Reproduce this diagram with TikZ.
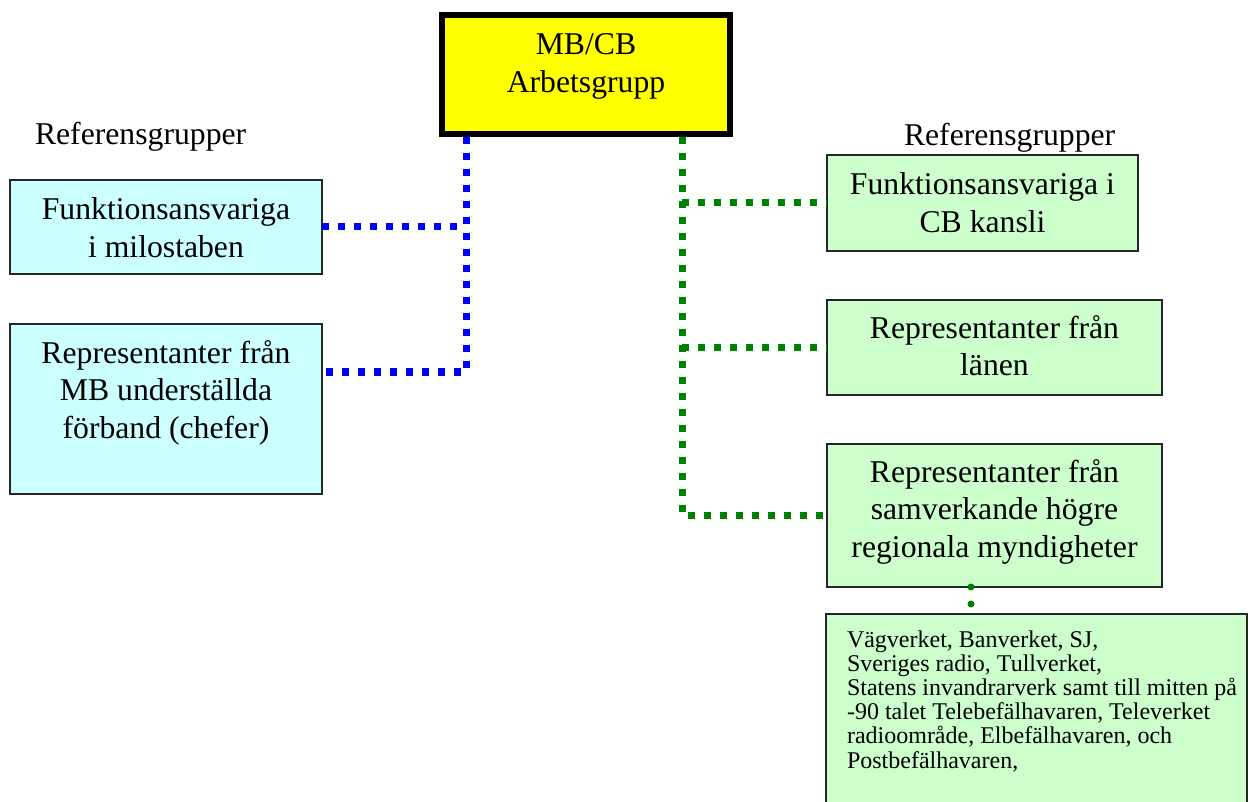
\documentclass[tikz,border=0pt]{standalone}
\usepackage{fontspec}
\setmainfont{Liberation Serif}
\definecolor{boxcyan}{HTML}{CCFFFF}
\definecolor{boxgreen}{HTML}{CCFFCC}
\definecolor{linkblue}{HTML}{0000FF}
\definecolor{linkgreen}{HTML}{008000}
\definecolor{headyellow}{HTML}{FFFF00}
% multi-line text blocks whose baseline is that of the first line
\newcommand\cblock[1]{\parbox[t]{420pt}{\centering #1}}
\newcommand\lblock[1]{\parbox[t]{415pt}{\raggedright #1}}
\tikzset{
  bigtext/.style={font=\fontsize{31.7}{37.5}\selectfont},
  smalltext/.style={font=\fontsize{24}{24.2}\selectfont},
  txt/.style={inner sep=0pt, outer sep=0pt, anchor=base},
  framebox/.style={rectangle, draw=black!85, line width=2pt, inner sep=0pt, outer sep=0pt},
  cyanbox/.style={framebox, fill=boxcyan},
  greenbox/.style={framebox, fill=boxgreen},
  headbox/.style={rectangle, draw=black, line width=6pt, fill=headyellow, inner sep=0pt, outer sep=0pt},
  bluedots/.style={draw=linkblue, line width=7pt, dash pattern=on 7pt off 9pt},
  greendots/.style={draw=linkgreen, line width=7pt, dash pattern=on 7pt off 9pt},
  rounddots/.style={draw=linkgreen, line width=7pt, line cap=round, dash pattern=on 0pt off 17pt},
}
\begin{document}
\begin{tikzpicture}[x=1pt, y=-1pt]
  \useasboundingbox (0,0) rectangle (1248,802);
  \fill[white] (0,0) rectangle (1248,802);
  \clip (0,0) rectangle (1248,802);

  % working group at the top
  \node[headbox, minimum width=288pt, minimum height=119pt] (wg) at (586,74.5) {};
  \node[txt, bigtext] (wgt) at (586,55) {\cblock{MB/CB\\Arbetsgrupp}};

  % headings
  \node[txt, bigtext, anchor=base west] (lref) at (35,145) {Referensgrupper};
  \node[txt, bigtext, anchor=base west] (rref) at (904,146) {Referensgrupper};

  % left reference groups
  \node[cyanbox, minimum width=312pt, minimum height=94pt] (l1) at (166,227) {};
  \node[txt, bigtext] (l1t) at (166,220) {\cblock{Funktionsansvariga\\i milostaben}};
  \node[cyanbox, minimum width=312pt, minimum height=170pt] (l2) at (166,409) {};
  \node[txt, bigtext] (l2t) at (166,363) {\cblock{Representanter från\\MB underställda\\förband (chefer)}};

  % right reference groups
  \node[greenbox, minimum width=311pt, minimum height=96pt] (r1) at (982.5,203) {};
  \node[txt, bigtext] (r1t) at (982.5,195) {\cblock{Funktionsansvariga i\\CB kansli}};
  \node[greenbox, minimum width=335pt, minimum height=95pt] (r2) at (994.5,347.5) {};
  \node[txt, bigtext] (r2t) at (994.5,338) {\cblock{Representanter från\\länen}};
  \node[greenbox, minimum width=335pt, minimum height=143pt] (r3) at (994.5,515.5) {};
  \node[txt, bigtext] (r3t) at (994.5,482) {\cblock{Representanter från\\samverkande högre\\regionala myndigheter}};
  \node[greenbox, minimum width=421pt, minimum height=286pt] (r4) at (1036.5,757) {};
  \node[txt, smalltext, anchor=base west] (r4t) at (847,647) {\lblock{Vägverket, Banverket, SJ,\\Sveriges radio, Tullverket,\\Statens invandrarverk samt till mitten på\\-90 talet Telebefälhavaren, Televerket\\radioområde, Elbefälhavaren, och\\Postbefälhavaren,}};

  % connector trunks
  \coordinate (bj) at (466,137);
  \coordinate (gj) at (682,137);
  \coordinate (dx) at (971,0);

  % blue links to the left groups
  \draw[bluedots] (bj) |- ([yshift=-48pt]l2.north east);
  \draw[bluedots] (l1.east) -- (l1.east -| bj);

  % green links to the right groups
  \draw[greendots] (gj) |- (r3.west);
  \draw[greendots] (gj |- r1.west) -- (r1.west);
  \draw[greendots] (gj |- r2.west) -- (r2.west);
  \draw[rounddots] (r3.south -| dx) -- (r4.north -| dx);
\end{tikzpicture}
\end{document}
